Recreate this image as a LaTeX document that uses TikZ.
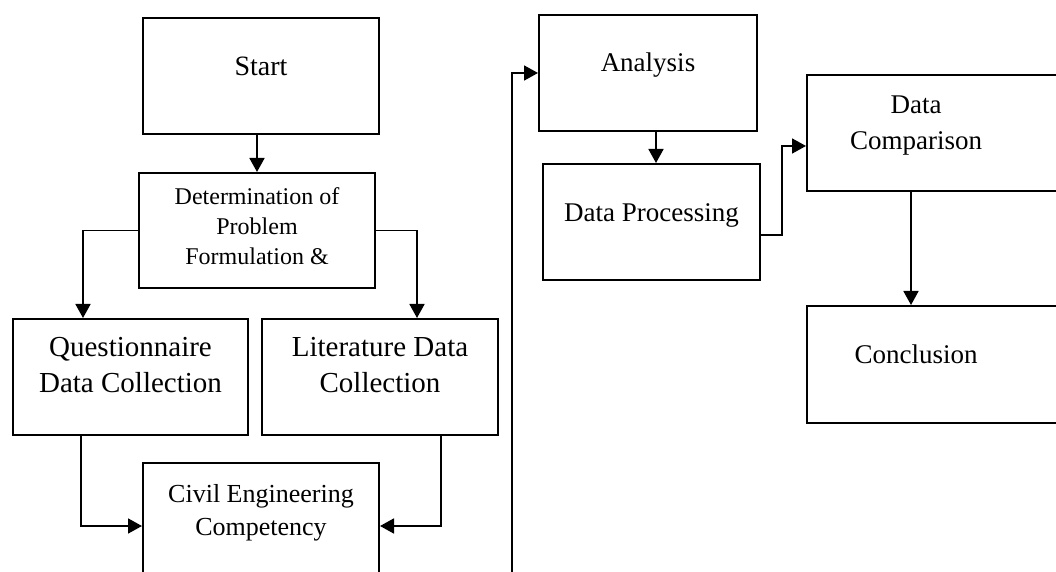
\documentclass[tikz,border=0pt]{standalone}
\usepackage{fontspec}
\setmainfont{Liberation Serif}
\usetikzlibrary{arrows.meta}
\tikzset{
  stage/.style={draw, line width=1pt, inner sep=0pt, anchor=north west, align=center},
  flow/.style={line width=0.9pt, -{Triangle[length=7pt,width=7.5pt]}},
  bigtext/.style={font=\fontsize{14.5}{18}\selectfont},
  midtext/.style={font=\fontsize{13.5}{18}\selectfont},
  smalltext/.style={font=\fontsize{12}{15}\selectfont}
}
\begin{document}
\begin{tikzpicture}[x=0.5pt, y=-0.5pt]
  \useasboundingbox (0,0) rectangle (1056,572);
  \clip (0,0) rectangle (1056,572);

  \node[stage, font=\fontsize{14}{18}\selectfont, minimum width=118pt, text height=29pt, text depth=29pt] (start) at (142,17) {Start};
  \node[stage, smalltext, minimum width=118pt, text height=46pt, text depth=11.5pt] (det) at (138,172) {Determination of\\Problem\\Formulation \&};
  \node[stage, bigtext, minimum width=117.5pt, text height=37pt, text depth=21pt] (quest) at (12,318) {Questionnaire\\Data Collection};
  \node[stage, bigtext, minimum width=118pt, text height=37pt, text depth=21pt] (lit) at (261,318) {Literature Data\\Collection};
  \node[stage, font=\fontsize{13}{17}\selectfont, minimum width=118pt, text height=36.5pt, text depth=26.5pt] (civil) at (142,462) {Civil Engineering\\Competency};

  \node[stage, midtext, minimum width=109pt, text height=28.5pt, text depth=29.5pt] (analysis) at (538,14) {Analysis};
  \node[stage, midtext, minimum width=108.5pt, text height=29pt, text depth=29pt] (proc) at (542,163) {Data Processing};
  \node[stage, midtext, text height=19.3pt, text depth=38.7pt] (comp) at (806,74) {\parbox[t]{109pt}{\centering Data\\Comparison}\hspace*{30pt}};
  \node[stage, midtext, text height=29pt, text depth=29.5pt] (conc) at (806,305) {\parbox[t]{109pt}{\centering Conclusion}\hspace*{30pt}};

  \coordinate (feed) at (512,590);

  \draw[flow] (start.south -| det.north) -- (det.north);
  \draw[flow] (det.west) -| ([xshift=-23.75pt]quest.north);
  \draw[flow] (det.east) -| ([xshift=18.5pt]lit.north);
  \draw[flow] ([xshift=-24.75pt]quest.south) |- (civil.west);
  \draw[flow] ([xshift=30.5pt]lit.south) |- (civil.east);
  \draw[flow] (feed) |- (analysis.west);
  \draw[flow] ([xshift=4pt]analysis.south) -- ([xshift=4pt]analysis.south |- proc.north);
  \draw[flow] ([yshift=-6.5pt]proc.east) -- ++(10.5pt,0) |- ([yshift=-6.5pt]comp.west);
  \draw[flow] ([xshift=52.5pt]comp.south west) -- ([xshift=52.5pt]conc.north west);
\end{tikzpicture}
\end{document}
